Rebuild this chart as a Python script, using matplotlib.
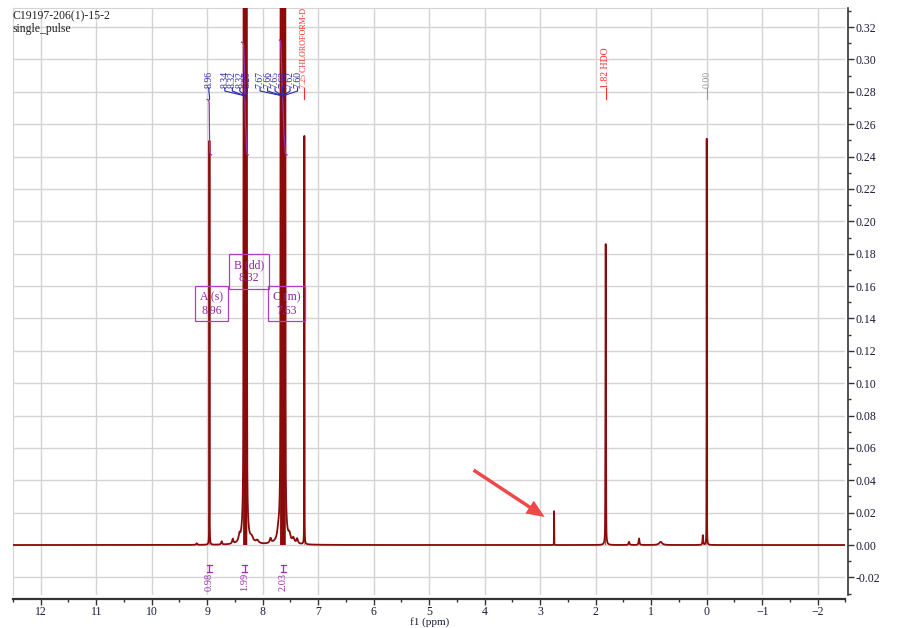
import numpy as np
import matplotlib
matplotlib.use("Agg")
import matplotlib.pyplot as plt

plt.rcParams['font.family'] = ['Liberation Serif', 'DejaVu Serif']

TITLE_LINES = ["C19197-206(1)-15-2", "single_pulse"]

# peak list: position (ppm), height, half width (ppm), lorentz fraction
peak_ppm = [8.96, 8.336, 8.322, 8.318, 8.294, 7.67, 7.66, 7.65, 7.63, 7.62, 7.60,
            7.25, 2.75, 1.82, 0.00]
peak_height = [0.25, 1.2, 1.6, 1.6, 1.2, 1.0, 1.3, 1.5, 1.5, 1.3, 1.0,
               0.253, 0.021, 0.186, 0.251]
peak_hwhm = [0.0025, 0.006, 0.006, 0.006, 0.006, 0.006, 0.006, 0.006, 0.006, 0.006, 0.006,
             0.0025, 0.002, 0.005, 0.0025]
peak_eta = [0.35, 0.2, 0.2, 0.2, 0.2, 0.2, 0.2, 0.2, 0.2, 0.2, 0.2,
            0.35, 0.35, 0.35, 0.35]

# small baseline bumps
bump_ppm = [9.19, 8.74, 8.54, 8.42, 8.20, 8.10, 7.86, 7.72, 7.52, 7.45, 7.38,
            1.40, 1.22, 0.83, 0.07]
bump_height = [0.001, 0.002, 0.003, 0.004, 0.003, 0.002, 0.003, 0.004, 0.004, 0.003, 0.003,
               0.002, 0.004, 0.002, 0.006]
bump_hwhm = [0.01, 0.01, 0.012, 0.015, 0.03, 0.03, 0.015, 0.02, 0.02, 0.02, 0.015,
             0.01, 0.008, 0.03, 0.006]

# peak labels (groups)
group_a = [8.96]
group_b = [8.336, 8.322, 8.318, 8.294]
group_c = [7.67, 7.66, 7.65, 7.63, 7.62, 7.60]
solvent_labels = [(7.25, "7.25 CHLOROFORM-D", "#ff2a2a", 5.8),
                  (1.82, "1.82 HDO", "#ff2a2a", 7),
                  (0.00, "0.00", "#999999", 7)]

# multiplets
mult_names = ["A (s)", "B (dd)", "C (m)"]
mult_shift = [8.96, 8.32, 7.63]
mult_range = [(9.00, 8.92), (8.38, 8.26), (7.70, 7.56)]
mult_integral = [0.98, 1.99, 2.03]

ppm = np.linspace(12.6, -2.6, 40000)


def line_shape(x, x0, h, w, eta):
    lor = w ** 2 / ((x - x0) ** 2 + w ** 2)
    gau = np.exp(-np.log(2) * ((x - x0) / w) ** 2)
    return h * (eta * lor + (1 - eta) * gau)


spec = np.zeros_like(ppm)
for x0, h, w, e in zip(peak_ppm, peak_height, peak_hwhm, peak_eta):
    spec += line_shape(ppm, x0, h, w, e)
for x0, h, w in zip(bump_ppm, bump_height, bump_hwhm):
    spec += line_shape(ppm, x0, h, w, 1.0)

fig = plt.figure(figsize=(9, 6.28), dpi=100)
ax = fig.add_axes([0.0144, 0.0525, 0.925, 0.9345])

ax.set_xlim(12.5, -2.49)
ax.set_ylim(-0.0309, 0.3317)

spec_color = '#8b0a0a'
ax.plot(ppm, spec, color=spec_color, lw=1.3, zorder=3)
ax.fill_between(ppm, spec, 0, where=spec > 0.05, color=spec_color, lw=0, zorder=3)

# grid and frame
ax.set_xticks(np.arange(12, -3, -1))
ax.set_xticks(np.arange(12.5, -2.6, -0.5), minor=True)
ax.set_yticks(np.arange(-0.02, 0.33, 0.02))
ax.set_yticks(np.arange(-0.03, 0.331, 0.01), minor=True)
ax.grid(True, which='major', color='#d4d4d4', lw=1.0)
ax.yaxis.tick_right()
ax.set_yticklabels(["%.2f" % v if abs(v) > 1e-9 else "0.00" for v in np.arange(-0.02, 0.33, 0.02)])
for s in ['top', 'left']:
    ax.spines[s].set_color('#d4d4d4')
ax.spines['bottom'].set_position(('outward', 3))
ax.spines['right'].set_position(('outward', 2))
ax.spines['bottom'].set_color('#333333')
ax.spines['right'].set_color('#333333')
ax.spines['bottom'].set_linewidth(1.6)
ax.spines['right'].set_linewidth(1.2)
ax.tick_params(axis='x', which='major', length=4, width=1, colors='#333333',
               labelcolor='#1a1a3a', labelsize=8.5, pad=1)
ax.tick_params(axis='x', which='minor', length=2.5, width=1, colors='#333333')
ax.tick_params(axis='y', which='major', length=4, width=1, colors='#333333',
               labelcolor='#1a1a3a', labelsize=8.5, pad=1)
ax.tick_params(axis='y', which='minor', length=2.5, width=1, colors='#333333')
ax.set_xlabel("f1 (ppm)", fontsize=8, color='#1a1a3a', va='bottom')
ax.xaxis.set_label_coords(0.5, -0.0545)

ax.text(0.0, 0.997, "\n".join(TITLE_LINES), transform=ax.transAxes, ha='left', va='top',
        fontsize=8.5, color='#222222', linespacing=1.1)

# peak labels at the top
LABEL_Y = 0.2825
BEND_Y = 0.2805
ROOT_Y = 0.2775
LABEL_STEP = 0.135
label_blue = '#2828a8'


def label_group(peaks, center, color):
    n = len(peaks)
    for i, p in enumerate(peaks):
        lx = center - (i - (n - 1) / 2) * LABEL_STEP
        ax.text(lx, LABEL_Y, "%.2f" % p, rotation=90, ha='center', va='bottom',
                fontsize=7, color=color, zorder=5)
        ax.plot([lx, lx, np.mean(peaks)], [LABEL_Y, BEND_Y, ROOT_Y], color=color, lw=0.8, zorder=5)
    ax.plot([np.mean(peaks)] * 2, [ROOT_Y, 0.2755], color=color, lw=0.8, zorder=5)


label_group(group_a, 8.97, label_blue)
label_group(group_b, 8.48, label_blue)
label_group(group_c, 7.71, label_blue)
for p, txt, col, fs in solvent_labels:
    ax.text(p, LABEL_Y, txt, rotation=90, ha='center', va='bottom', fontsize=fs, color=col, zorder=5)
    ax.plot([p, p], [LABEL_Y, 0.2755], color=col, lw=0.8, zorder=5)

# integral curves
INT_BASE = 0.241
INT_SCALE = 0.035
purple = '#9a2fb0'
for (hi, lo), val in zip(mult_range, mult_integral):
    m = (ppm <= hi) & (ppm >= lo)
    seg = spec[m][::-1]
    cum = np.cumsum(seg)
    cum = cum / cum[-1] * val * INT_SCALE + INT_BASE
    ax.plot(ppm[m][::-1], cum, color=purple, lw=0.9, zorder=4)

# multiplet boxes
box_pos = [(8.92, 0.149), (8.25, 0.169), (7.57, 0.149)]
for name, shift, (bx, by) in zip(mult_names, mult_shift, box_pos):
    ax.text(bx, by, "%s\n%.2f" % (name, shift), ha='center', va='center', fontsize=8.5,
            color='#8a2a9a', linespacing=1.15, zorder=6,
            bbox=dict(boxstyle='square,pad=0.4', fc='none', ec='#b040c0', lw=0.9))

# integral marks below the baseline
for (hi, lo), val in zip(mult_range, mult_integral):
    c = (hi + lo) / 2
    half = 0.045
    ax.plot([c - half, c + half], [-0.0125, -0.0125], color=purple, lw=0.9)
    ax.plot([c - half, c + half], [-0.0165, -0.0165], color=purple, lw=0.9)
    ax.plot([c, c], [-0.0125, -0.0165], color=purple, lw=0.9)
    ax.text(c, -0.0170, "%.2f" % val, rotation=90, ha='center', va='top', fontsize=7.5, color=purple)

# red arrow
ARROW_TAIL = (4.20, 0.0463)
ARROW_TIP = (2.92, 0.0173)
ax.annotate("", xy=ARROW_TIP, xytext=ARROW_TAIL,
            arrowprops=dict(arrowstyle='simple,head_width=1.1,head_length=1.3,tail_width=0.25',
                            color='#f04848', lw=0, shrinkA=0, shrinkB=0), zorder=7)

fig.savefig("out.png", dpi=100)
